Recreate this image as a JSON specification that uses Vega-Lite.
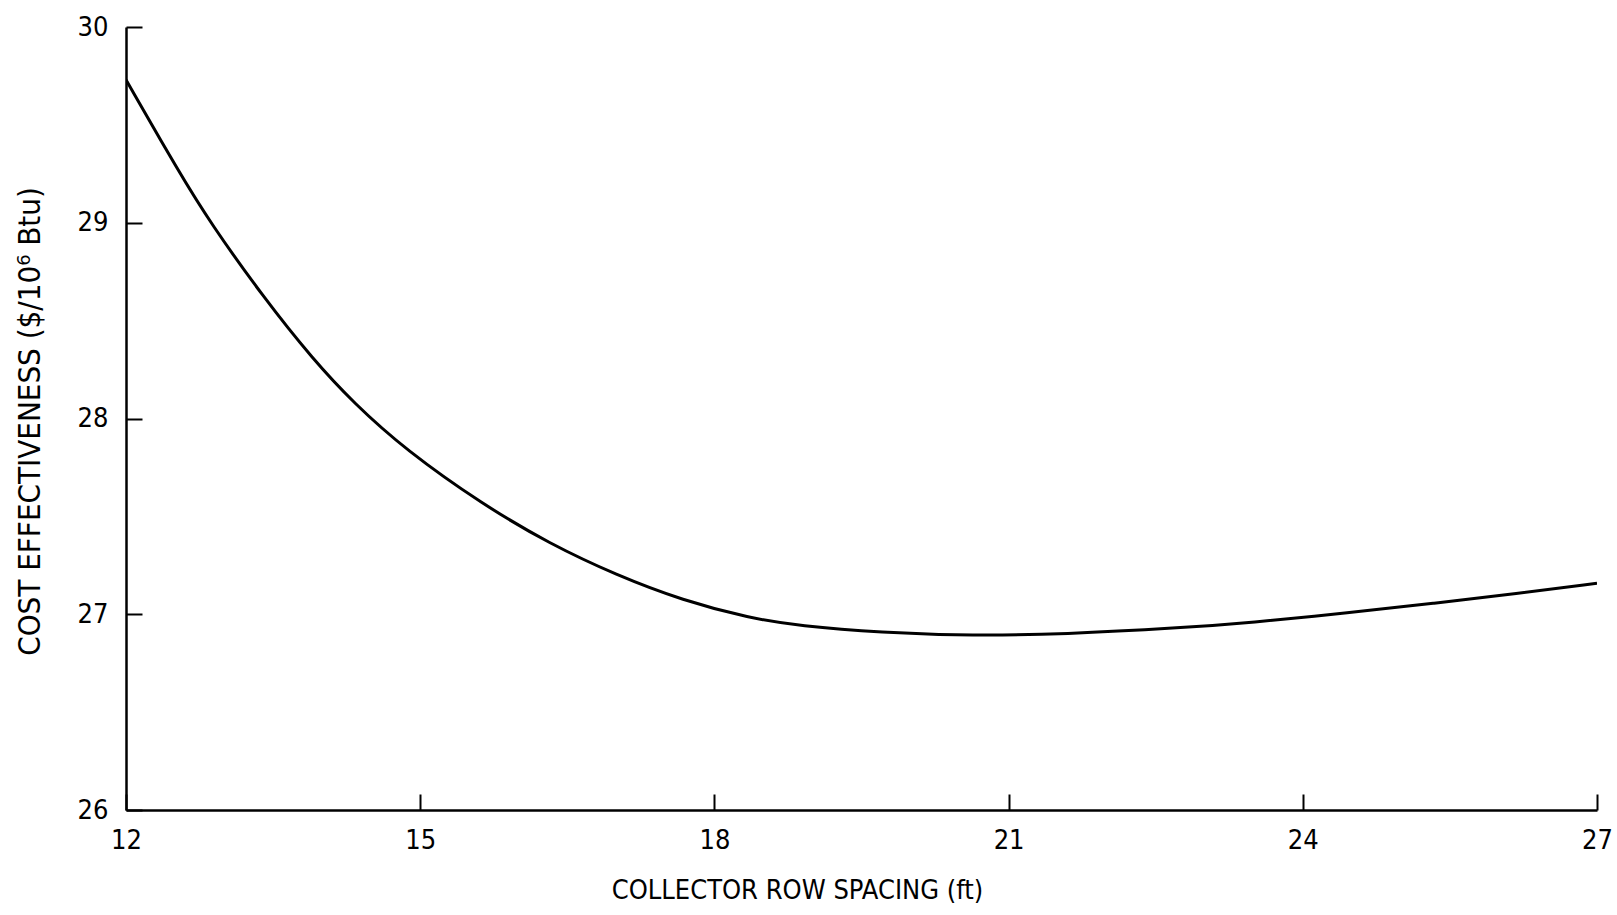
{
  "$schema": "https://vega.github.io/schema/vega-lite/v6.json",
  "width": 1471,
  "height": 783,
  "autosize": {"type": "none"},
  "padding": {"left": 126, "top": 27, "right": 20, "bottom": 105},
  "background": "white",
  "config": {
    "view": {"stroke": null},
    "font": "Liberation Sans Narrow, DejaVu Sans Condensed, sans-serif",
    "axis": {
      "grid": false,
      "domainColor": "#000",
      "domainWidth": 2.5,
      "tickColor": "#000",
      "tickWidth": 2,
      "tickSize": -16,
      "labelColor": "#000",
      "titleColor": "#000",
      "labelFont": "Liberation Sans Narrow, DejaVu Sans Condensed, sans-serif",
      "titleFont": "Liberation Sans Narrow, DejaVu Sans Condensed, sans-serif",
      "labelFontSize": 27,
      "titleFontSize": 27,
      "titleFontWeight": "normal",
      "labelFlush": false,
      "labelOverlap": false
    }
  },
  "data": {
    "values": [
      {"spacing": 12.0, "cost": 29.73},
      {"spacing": 12.55, "cost": 29.25},
      {"spacing": 12.86, "cost": 29.0},
      {"spacing": 13.4, "cost": 28.62},
      {"spacing": 13.91, "cost": 28.3},
      {"spacing": 14.32, "cost": 28.08},
      {"spacing": 14.85, "cost": 27.84},
      {"spacing": 15.64, "cost": 27.56},
      {"spacing": 16.32, "cost": 27.36},
      {"spacing": 17.0, "cost": 27.2},
      {"spacing": 17.68, "cost": 27.07},
      {"spacing": 18.36, "cost": 26.98},
      {"spacing": 18.87, "cost": 26.94},
      {"spacing": 19.69, "cost": 26.906},
      {"spacing": 20.64, "cost": 26.89},
      {"spacing": 21.56, "cost": 26.898},
      {"spacing": 22.75, "cost": 26.93},
      {"spacing": 23.46, "cost": 26.957},
      {"spacing": 24.48, "cost": 27.008},
      {"spacing": 25.33, "cost": 27.056},
      {"spacing": 26.18, "cost": 27.105},
      {"spacing": 27.0, "cost": 27.158}
    ]
  },
  "mark": {"type": "line", "color": "#000", "strokeWidth": 3, "interpolate": "basis", "clip": true},
  "encoding": {
    "x": {
      "field": "spacing",
      "type": "quantitative",
      "scale": {"domain": [12, 27], "nice": false, "zero": false},
      "axis": {
        "values": [12, 15, 18, 21, 24, 27],
        "title": "COLLECTOR ROW SPACING (ft)",
        "labelPadding": 33,
        "titleX": 671,
        "titleY": 80,
        "titleAlign": "center",
        "titleBaseline": "middle"
      }
    },
    "y": {
      "field": "cost",
      "type": "quantitative",
      "scale": {"domain": [26, 30], "nice": false, "zero": false},
      "axis": {
        "values": [26, 27, 28, 29, 30],
        "title": "COST EFFECTIVENESS ($/10⁶ Btu)",
        "labelPadding": 34,
        "titleFontSize": 31,
        "titleX": -96,
        "titleY": 394,
        "titleAlign": "center",
        "titleBaseline": "middle",
        "titleAngle": -90
      }
    }
  }
}
